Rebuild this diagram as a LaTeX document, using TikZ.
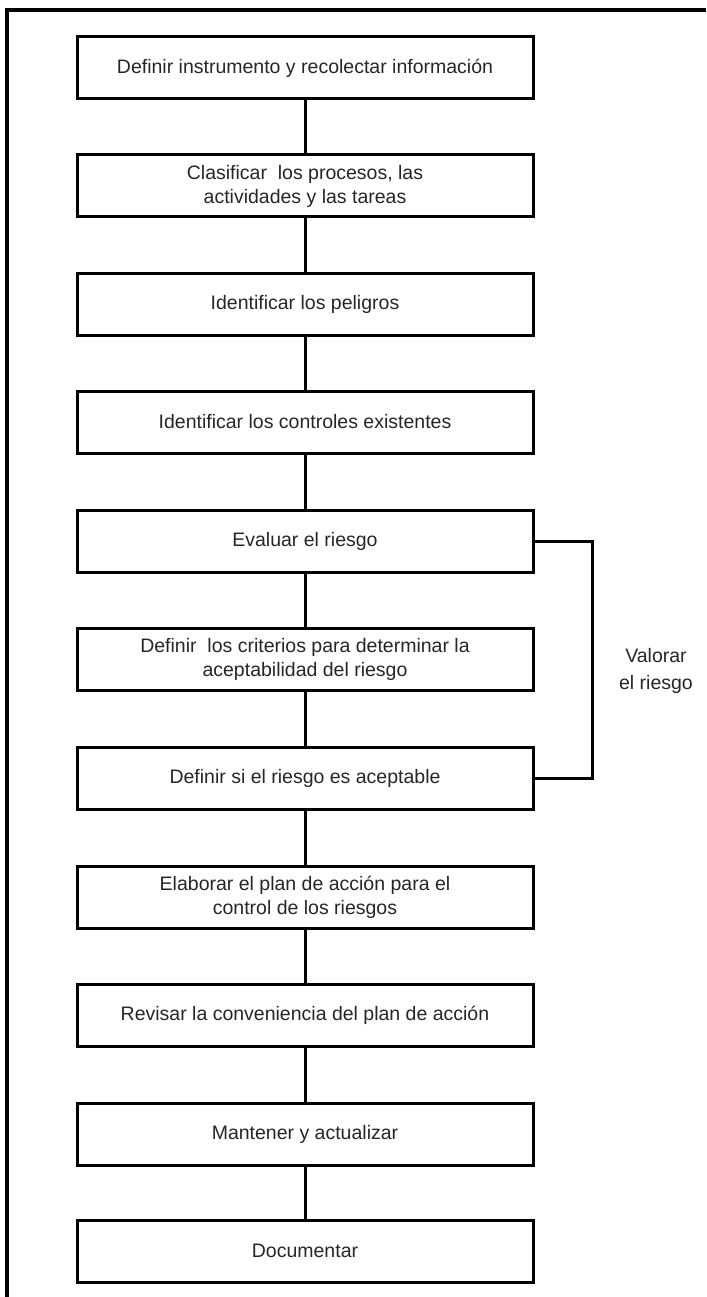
\documentclass[tikz,border=0pt]{standalone}
\usepackage{fontspec}
\setmainfont{Liberation Sans}
\usepackage{tikz}
\usetikzlibrary{positioning}
\usetikzlibrary{calc}

\begin{document}
\begin{tikzpicture}[x=1pt,y=-1pt]

    \useasboundingbox (0,0) rectangle (706,1297);

    % outer frame (cut off on the right and at the bottom)
    \draw[line width=3.4pt] (7,1297) -- (7,10) -- (706,10);

    \tikzset{stepbox/.style={draw,line width=3pt,minimum width=456pt,minimum height=62pt,inner sep=0pt,align=center,
        font=\fontsize{19.5}{24}\selectfont,text=black!85}}
    \tikzset{link/.style={line width=3pt}}

    % steps
    \node[stepbox] (b1) at (305,68) {Definir instrumento y recolectar información};
    \node[stepbox] (b2) at (305,186) {Clasificar\ \ los procesos, las\\actividades y las tareas};
    \node[stepbox] (b3) at (305,304) {Identificar los peligros};
    \node[stepbox] (b4) at (305,422) {Identificar los controles existentes};
    \node[stepbox] (b5) at (305,541) {Evaluar el riesgo};
    \node[stepbox] (b6) at (305,659) {Definir\ \ los criterios para determinar la\\aceptabilidad del riesgo};
    \node[stepbox] (b7) at (305,778) {Definir si el riesgo es aceptable};
    \node[stepbox] (b8) at (305,897) {Elaborar el plan de acción para el\\control de los riesgos};
    \node[stepbox] (b9) at (305,1015) {Revisar la conveniencia del plan de acción};
    \node[stepbox] (b10) at (305,1134) {Mantener y actualizar};
    \node[stepbox] (b11) at (305,1251) {Documentar};

    % vertical links
    \foreach \a/\b in {b1/b2,b2/b3,b3/b4,b4/b5,b5/b6,b6/b7,b7/b8,b8/b9,b9/b10,b10/b11}
        \draw[link] (\a) -- (\b);

    % bracket for valuing the risk
    \draw[link] (b5.east) -- ++(58,0) |- (b7.east);
    \node[align=center,font=\fontsize{19.5}{27}\selectfont,text=black!85] (val) at (656,671) {Valorar\\el riesgo};

\end{tikzpicture}
\end{document}
